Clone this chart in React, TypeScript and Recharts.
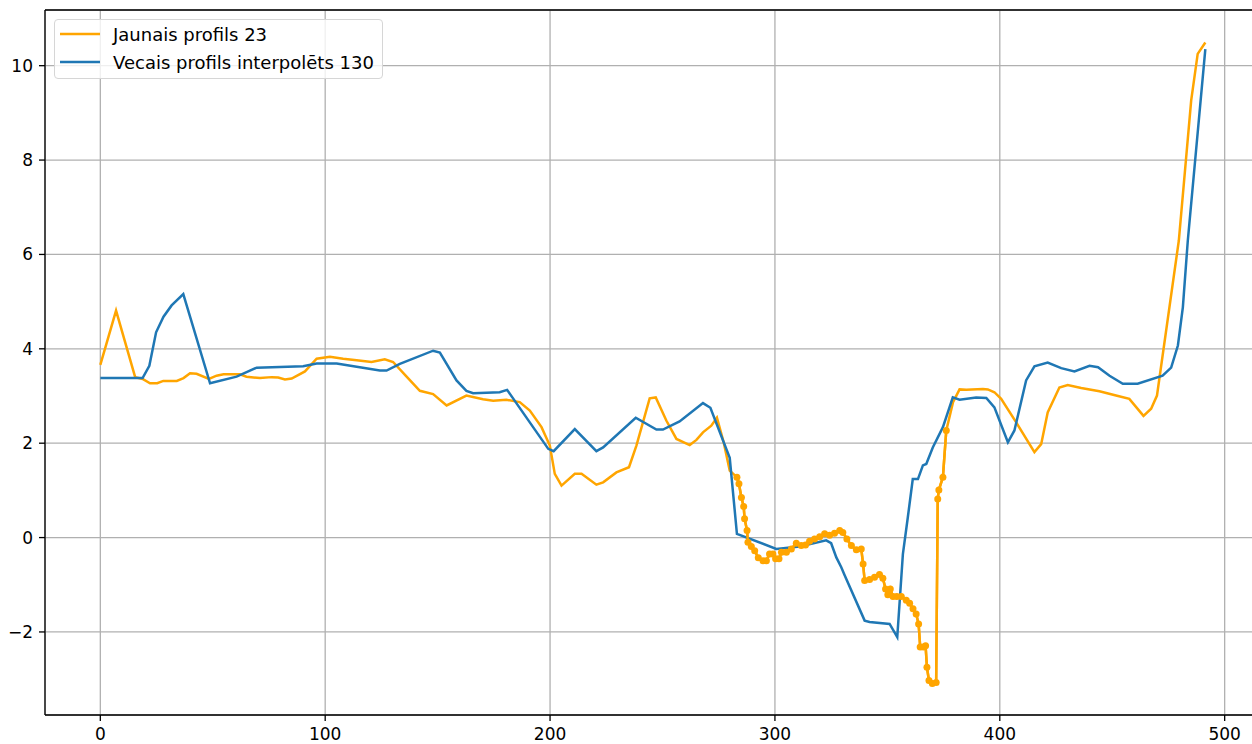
import { CartesianGrid, Legend, Line, LineChart, ReferenceLine, XAxis, YAxis } from 'recharts';

// Jaunais profils 23 (orange line, full profile)
const jaunaisX = [
  0, 7, 15.5, 18.8, 22.1, 25.3, 28, 34, 37, 39.9, 42.8, 48.3, 51.7, 54.8, 62.1, 65, 71, 76.2, 79.1, 82.1,
  85.1, 91, 96.2, 102.1, 108, 114, 120.6, 126.5, 130.2, 136, 142.1, 148, 154, 162.8, 170.2, 174.7, 180.6,
  186.5, 191, 196.2, 199.9, 202.1, 205.1, 211, 214, 220.6, 223.6, 229.5, 235.1, 238.4, 244.3, 247, 251.7,
  256.2, 262.1, 265.1, 268, 271.7, 274.2, 277.2, 279.9,
  283.1, 284, 285.1, 286.1, 286.5, 287.6, 288, 289.5, 291, 292.6, 294.7, 296.2, 297.6, 299.1, 300.3, 301.8,
  302.9, 305.1, 307.3, 309.5, 311.7, 313.6, 315.4, 317.6, 319.9, 322.1, 324.3, 326.5, 328.8, 330.2, 332,
  334, 336.2, 338.4, 339.2, 339.9, 342.1, 344.3, 346.5, 348, 349.2, 350.2, 351.3, 352.5, 354.2, 356.2,
  358.4, 359.9, 361.4, 362.8, 363.9, 364.6, 366, 367, 367.6, 368.5, 370, 371.7, 372.4, 372.9, 374.7, 376.2,
  379.2, 382.1, 385.1, 392.5, 394.7, 397.6, 400.6, 407.3, 415.4, 418.4, 421.3, 426.5, 430.2, 436.2, 444.3,
  451.7, 457.6, 463.9, 467.3, 469.9, 479.6, 485.1, 488, 491.4,
];
const jaunaisY = [
  3.66, 4.81, 3.4, 3.36, 3.27, 3.27, 3.32, 3.32, 3.38, 3.48, 3.47, 3.36, 3.43, 3.46, 3.46, 3.41, 3.38, 3.4,
  3.39, 3.35, 3.37, 3.52, 3.79, 3.83, 3.79, 3.76, 3.72, 3.78, 3.72, 3.42, 3.11, 3.04, 2.8, 3.01, 2.93, 2.9,
  2.92, 2.87, 2.69, 2.34, 1.95, 1.35, 1.1, 1.35, 1.35, 1.12, 1.17, 1.38, 1.49, 1.95, 2.95, 2.97, 2.48, 2.09,
  1.96, 2.07, 2.23, 2.37, 2.54, 2.02, 1.42,
  1.28, 1.14, 0.85, 0.66, 0.4, 0.15, -0.1, -0.19, -0.28, -0.43, -0.49, -0.49, -0.35, -0.35, -0.45, -0.45,
  -0.31, -0.31, -0.24, -0.12, -0.17, -0.16, -0.08, -0.03, 0.02, 0.08, 0.05, 0.09, 0.15, 0.11, -0.03, -0.17,
  -0.26, -0.24, -0.56, -0.91, -0.89, -0.84, -0.78, -0.86, -1.09, -1.21, -1.09, -1.25, -1.25, -1.25, -1.33,
  -1.39, -1.51, -1.62, -1.83, -2.32, -2.32, -2.29, -2.75, -3.03, -3.09, -3.07, 0.82, 1.01, 1.28, 2.27,
  2.87, 3.14, 3.13, 3.15, 3.14, 3.08, 2.94, 2.44, 1.81, 1.98, 2.65, 3.18, 3.23, 3.17, 3.1, 3.01, 2.94, 2.58,
  2.73, 3.01, 6.29, 9.26, 10.25, 10.49,
];

// points of the new profile that are drawn with markers
const markerFrom = 283;
const markerTo = 377;

// Vecais profils interpolēts 130 (blue line)
const vecaisX = [
  0, 18.8, 21.8, 24.8, 28.1, 31.7, 36.9, 48.8, 60.6, 69.5, 90.2, 96.2, 105.1, 114, 124.3, 127.3, 133.2, 148,
  151, 158.4, 162.8, 165.8, 177.6, 180.9, 199.2, 201.6, 211, 220.6, 223.6, 238.1, 247.3, 250.2, 257.6, 268,
  271.3, 279.9, 283.1, 300.6, 311, 322.8, 325, 327.3, 329.5, 331, 339.9, 342.1, 351, 354.4, 356.9, 359.1,
  361.3, 363.6, 365.8, 367.3, 370.2, 374.7, 379.1, 382.1, 389.5, 394, 397.6, 403.6, 406.5, 411.7, 415.4,
  421.3, 427.3, 433.2, 439.9, 443.7, 448.8, 454.7, 461.3, 472.4, 476.2, 479.2, 481.4, 483.6, 491.4,
];
const vecaisY = [
  3.38, 3.38, 3.64, 4.35, 4.68, 4.92, 5.16, 3.27, 3.41, 3.6, 3.63, 3.69, 3.69, 3.62, 3.54, 3.54, 3.68, 3.96,
  3.92, 3.33, 3.11, 3.06, 3.08, 3.13, 1.88, 1.83, 2.3, 1.83, 1.91, 2.54, 2.29, 2.29, 2.46, 2.85, 2.75, 1.69,
  0.08, -0.24, -0.19, -0.06, -0.12, -0.42, -0.63, -0.8, -1.76, -1.79, -1.83, -2.11, -0.35, 0.43, 1.24, 1.24,
  1.53, 1.56, 1.91, 2.34, 2.97, 2.92, 2.97, 2.96, 2.76, 2.02, 2.27, 3.33, 3.63, 3.71, 3.59, 3.52, 3.64, 3.61,
  3.43, 3.26, 3.26, 3.43, 3.6, 4.07, 4.88, 6.29, 10.35,
];

const xTicks = [0, 100, 200, 300, 400, 500];
const yTicks = [-2, 0, 2, 4, 6, 8, 10];

const FONT = '"DejaVu Sans", sans-serif';
const TICK_FONT_SIZE = 17;
const LEGEND_FONT_SIZE = 18;
const ORANGE = '#ffa500';
const BLUE = '#1f77b4';
const X_DOMAIN: [number, number] = [-24.6, 516.6];
const Y_DOMAIN: [number, number] = [-3.76, 11.18];

const jaunaisData = jaunaisX.map((x, i) => ({ x, y: jaunaisY[i] }));
const markerData = jaunaisData.filter((p) => p.x >= markerFrom && p.x <= markerTo);
const vecaisData = vecaisX.map((x, i) => ({ x, y: vecaisY[i] }));

// matplotlib style minus sign on negative ticks
const fmtTick = (v: number) => (v < 0 ? `\u2212${-v}` : `${v}`);

// legend box like matplotlib's upper left legend
const renderLegend = (props: any) => {
  const items = (props.payload || []).filter((p: any) => p.type !== 'none');
  return (
    <div
      style={{
        width: 329,
        boxSizing: 'border-box',
        background: 'rgba(255,255,255,0.8)',
        border: '1px solid #d6d6d6',
        borderRadius: 4,
        padding: '0 0 2px 5px',
        fontFamily: FONT,
        fontSize: LEGEND_FONT_SIZE,
        color: '#000',
      }}
    >
      {items.map((item: any) => (
        <div key={item.value} style={{ display: 'flex', alignItems: 'center', height: 28 }}>
          <svg width={40} height={4} style={{ display: 'block' }}>
            <line x1={0} x2={40} y1={2} y2={2} stroke={item.color} strokeWidth={2.5} />
          </svg>
          <span style={{ marginLeft: 13, whiteSpace: 'nowrap' }}>{item.value}</span>
        </div>
      ))}
    </div>
  );
};

export default function App() {
  return (
    <div
      style={{
        position: 'fixed',
        left: 0,
        top: 0,
        width: 1252,
        height: 744,
        overflow: 'hidden',
        background: '#fff',
      }}
    >
      <LineChart width={1270} height={744} margin={{ top: 10, right: 8, bottom: 0, left: 0 }}>
        <CartesianGrid stroke="#b0b0b0" strokeWidth={1.3} />
        <XAxis
          type="number"
          dataKey="x"
          domain={X_DOMAIN}
          ticks={xTicks}
          allowDataOverflow
          height={29}
          tickSize={6}
          tickMargin={7}
          axisLine={{ stroke: '#000', strokeWidth: 1.3 }}
          tickLine={{ stroke: '#000', strokeWidth: 1.3 }}
          tick={{ fill: '#000', fontSize: TICK_FONT_SIZE, fontFamily: FONT }}
        />
        <YAxis
          type="number"
          dataKey="y"
          domain={Y_DOMAIN}
          ticks={yTicks}
          allowDataOverflow
          width={45}
          tickSize={6}
          tickMargin={6}
          tickFormatter={fmtTick}
          axisLine={{ stroke: '#000', strokeWidth: 1.3 }}
          tickLine={{ stroke: '#000', strokeWidth: 1.3 }}
          tick={{ fill: '#000', fontSize: TICK_FONT_SIZE, fontFamily: FONT }}
        />
        <ReferenceLine y={Y_DOMAIN[1]} stroke="#000" strokeWidth={1.3} />
        <ReferenceLine x={X_DOMAIN[1]} stroke="#000" strokeWidth={1.3} />
        <Legend
          layout="vertical"
          align="center"
          verticalAlign="middle"
          content={renderLegend}
          wrapperStyle={{ left: 54, top: 19, width: 'auto', height: 'auto' }}
        />
        <Line
          data={jaunaisData}
          dataKey="y"
          name="Jaunais profils 23"
          type="linear"
          stroke={ORANGE}
          strokeWidth={2.5}
          dot={false}
          isAnimationActive={false}
        />
        <Line
          data={vecaisData}
          dataKey="y"
          name="Vecais profils interpolēts 130"
          type="linear"
          stroke={BLUE}
          strokeWidth={2.5}
          dot={false}
          isAnimationActive={false}
        />
        <Line
          data={markerData}
          dataKey="y"
          name="markers"
          legendType="none"
          type="linear"
          stroke={ORANGE}
          strokeWidth={2.5}
          dot={{ r: 3.5, fill: ORANGE, stroke: ORANGE, strokeWidth: 0 }}
          isAnimationActive={false}
        />
      </LineChart>
    </div>
  );
}
